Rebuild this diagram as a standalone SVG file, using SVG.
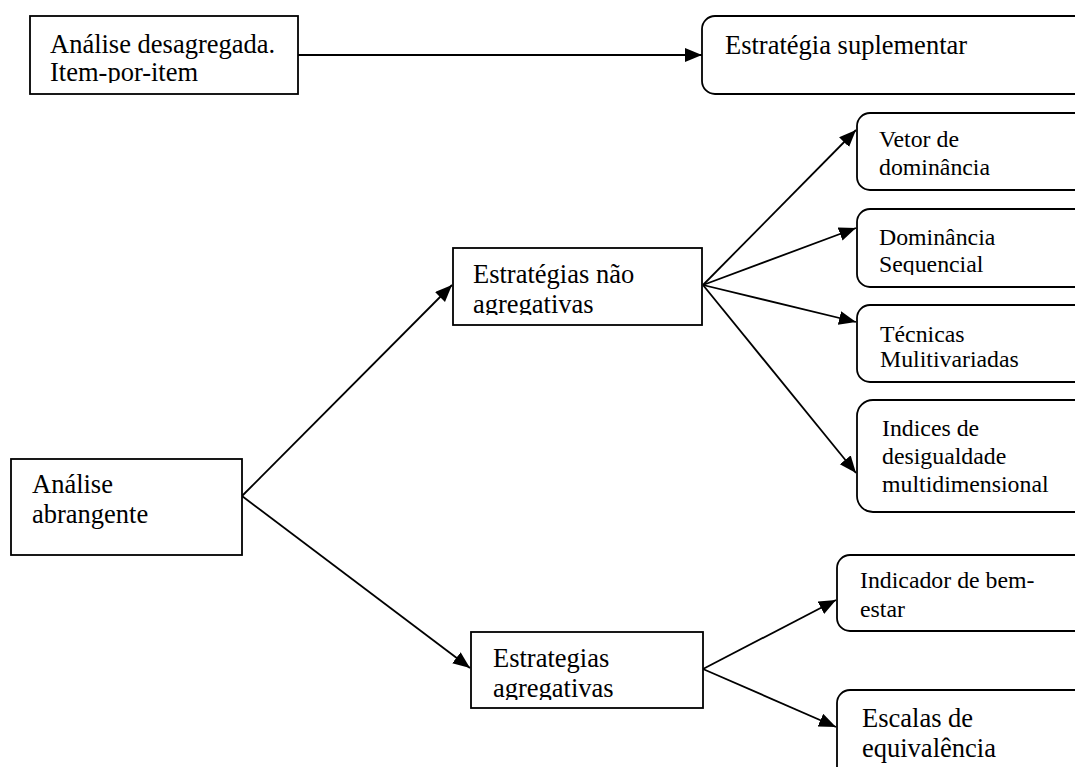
<svg xmlns="http://www.w3.org/2000/svg" width="1075" height="767" viewBox="0 0 1075 767">
  <style>
    .box { fill: #fff; stroke: #000; stroke-width: 1.8; }
    .big { font-family: "Liberation Serif", "Times New Roman", serif; font-size: 26.5px; fill: #000; }
    .small { font-family: "Liberation Serif", "Times New Roman", serif; font-size: 23.8px; fill: #000; }
    .conn line { stroke: #000; stroke-width: 1.8; marker-end: url(#arrow); }
  </style>
  <defs>
    <marker id="arrow" markerUnits="userSpaceOnUse" markerWidth="20" markerHeight="16" refX="17" refY="7" orient="auto">
      <polygon points="0,0 17,7 0,14" fill="#000"/>
    </marker>
    <clipPath id="c-desag"><rect x="30" y="16" width="268" height="67"/></clipPath>
    <clipPath id="c-nagg"><rect x="453" y="248" width="249" height="67"/></clipPath>
    <clipPath id="c-dom"><rect x="856" y="209" width="219" height="66"/></clipPath>
    <clipPath id="c-agg"><rect x="471" y="632" width="232" height="68"/></clipPath>
  </defs>

  <g class="conn" id="connectors">
    <line x1="298" y1="55" x2="702" y2="55"/>
    <line x1="242" y1="496" x2="452" y2="285"/>
    <line x1="242" y1="496" x2="470" y2="668"/>
    <line x1="703" y1="285" x2="856" y2="130"/>
    <line x1="703" y1="285" x2="856" y2="228"/>
    <line x1="703" y1="285" x2="856" y2="322"/>
    <line x1="703" y1="285" x2="856" y2="473"/>
    <line x1="703" y1="669" x2="836" y2="600"/>
    <line x1="703" y1="669" x2="836" y2="727"/>
  </g>

  <g id="analise-desagregada">
    <rect class="box" x="30" y="16" width="268" height="78"/>
    <g clip-path="url(#c-desag)">
      <text class="big" x="50" y="53">Análise desagregada.</text>
      <text class="big" x="50" y="81">Item-por-item</text>
    </g>
  </g>

  <g id="estrategia-suplementar">
    <rect class="box" x="702" y="16" width="400" height="78" rx="13"/>
    <text class="big" x="725" y="54">Estratégia suplementar</text>
  </g>

  <g id="analise-abrangente">
    <rect class="box" x="11" y="459" width="231" height="96"/>
    <text class="big" x="32" y="493">Análise</text>
    <text class="big" x="32" y="523">abrangente</text>
  </g>

  <g id="estrategias-nao-agregativas">
    <rect class="box" x="453" y="248" width="249" height="77"/>
    <g clip-path="url(#c-nagg)">
      <text class="big" x="473" y="283">Estratégias não</text>
      <text class="big" x="473" y="313">agregativas</text>
    </g>
  </g>

  <g id="estrategias-agregativas">
    <rect class="box" x="471" y="632" width="232" height="76"/>
    <g clip-path="url(#c-agg)">
      <text class="big" x="493" y="667">Estrategias</text>
      <text class="big" x="493" y="697">agregativas</text>
    </g>
  </g>

  <g id="vetor-dominancia">
    <rect class="box" x="857" y="113" width="240" height="77" rx="13"/>
    <text class="small" x="879" y="147">Vetor de</text>
    <text class="small" x="879" y="175">dominância</text>
  </g>

  <g id="dominancia-sequencial">
    <rect class="box" x="857" y="209" width="240" height="78" rx="13"/>
    <g clip-path="url(#c-dom)">
      <text class="small" x="879" y="245">Dominância</text>
      <text class="small" x="879" y="272">Sequencial</text>
    </g>
  </g>

  <g id="tecnicas-multivariadas">
    <rect class="box" x="857" y="305" width="240" height="77" rx="13"/>
    <text class="small" x="880" y="342">Técnicas</text>
    <text class="small" x="880" y="367">Mulitivariadas</text>
  </g>

  <g id="indices-desigualdade">
    <rect class="box" x="857" y="400" width="240" height="112" rx="16"/>
    <text class="small" x="882" y="436">Indices de</text>
    <text class="small" x="882" y="464">desigualdade</text>
    <text class="small" x="882" y="492">multidimensional</text>
  </g>

  <g id="indicador-bem-estar">
    <rect class="box" x="837" y="555" width="260" height="76" rx="13"/>
    <text class="small" x="860" y="588">Indicador de bem-</text>
    <text class="small" x="860" y="617">estar</text>
  </g>

  <g id="escalas-equivalencia">
    <rect class="box" x="837" y="690" width="260" height="100" rx="13"/>
    <text class="big" x="862" y="727">Escalas de</text>
    <text class="big" x="862" y="757">equivalência</text>
  </g>
</svg>
